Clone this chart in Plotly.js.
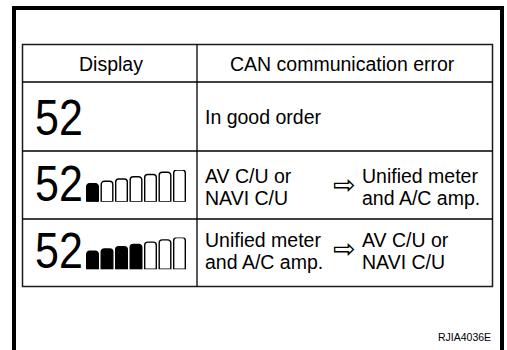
<!DOCTYPE html>
<html>
<head>
<meta charset="utf-8">
<script src="https://cdn.plot.ly/plotly-3.0.1.min.js"></script>
<style>
  html, body { margin: 0; padding: 0; background: #fff; }
  #chart { width: 507px; height: 350px; }
</style>
</head>
<body>
<div id="chart"></div>
<script>
// ---------- data ----------
const headers = ['Display', 'CAN communication error'];
const displayValue = '52';
const segmentIndex = [1, 2, 3, 4, 5, 6, 7];
const segmentLevels = [8, 9, 10, 11, 12, 13, 14];
const litSegments = [0, 1, 4];            // per table row
const statusText = ['In good order', null, null];
const fromUnit = [null, 'AV C/U or<br>NAVI C/U', 'Unified meter<br>and A/C amp.'];
const toUnit = [null, 'Unified meter<br>and A/C amp.', 'AV C/U or<br>NAVI C/U'];
const figureCode = 'RJIA4036E';

// ---------- geometry (pixels) ----------
const W = 507, H = 350;
const tbl = { left: 22.5, right: 492.5, top: 44.5, col: 197, rows: [82, 151, 219, 286.5] };
const FONT = '"Liberation Sans", Arial, Helvetica, sans-serif';
const textFont = { family: FONT, size: 19.5, color: '#000' };
const LINE = 22;

const shapes = [];
// outer frame (open at bottom)
shapes.push({ type: 'path', xref: 'x', yref: 'y',
  path: `M14,${H + 5} L14,8 L502,8 L502,${H + 5}`,
  line: { color: '#000', width: 4 } });
// table border
shapes.push({ type: 'rect', xref: 'x', yref: 'y', x0: tbl.left, x1: tbl.right,
  y0: tbl.top, y1: tbl.rows[3], line: { color: '#1a1a1a', width: 1.5 } });
// column divider
shapes.push({ type: 'line', xref: 'x', yref: 'y', x0: tbl.col, x1: tbl.col,
  y0: tbl.top, y1: tbl.rows[3], line: { color: '#000', width: 1.3 } });
// row lines
for (let i = 0; i < 3; i++) {
  shapes.push({ type: 'line', xref: 'x', yref: 'y', x0: tbl.left, x1: tbl.right,
    y0: tbl.rows[i], y1: tbl.rows[i], line: { color: '#000', width: 1.3 } });
}

const ann = [];
const digitAnn = [];
// headers
ann.push({ x: 111, y: 63.5, text: headers[0], showarrow: false, xanchor: 'center', yanchor: 'middle', font: textFont });
ann.push({ x: 342, y: 63.5, text: headers[1], showarrow: false, xanchor: 'center', yanchor: 'middle', font: textFont });

function addLines(x, yc, str) {
  const parts = str.split('<br>');
  const n = parts.length;
  parts.forEach((p, i) => {
    ann.push({ x: x, y: yc + (i - (n - 1) / 2) * LINE, text: p, showarrow: false,
      xanchor: 'left', yanchor: 'middle', font: textFont });
  });
}

const rowCenter = [116.5, 186.5, 251];
const digitCenter = [118, 183.5, 251];
for (let r = 0; r < 3; r++) {
  digitAnn.push(ann.length);
  ann.push({ x: 33, y: digitCenter[r], text: displayValue, showarrow: false,
    xanchor: 'left', yanchor: 'middle',
    font: { family: FONT, size: 50, color: '#000' } });
  if (statusText[r]) addLines(203, rowCenter[r], statusText[r]);
  if (fromUnit[r]) {
    addLines(203, rowCenter[r], fromUnit[r]);
    ann.push({ x: 344, y: rowCenter[r] - 2.5, text: '\u21E8', showarrow: false,
      xanchor: 'center', yanchor: 'middle',
      font: { family: '"DejaVu Sans", sans-serif', size: 27, color: '#000' } });
    addLines(360, rowCenter[r], toUnit[r]);
  }
}
ann.push({ x: 493, y: 336.5, text: figureCode, showarrow: false, xanchor: 'right', yanchor: 'middle',
  font: { family: FONT, size: 10.5, color: '#000' } });

// segment bar subplots (rows 2 and 3)
const segX0 = 85.25, segX1 = 186.75;
const barBottoms = [null, 201.7, 269.3];
const barTopPx = 31.7;
const traces = [];
const layout = {
  width: W, height: H,
  margin: { l: 0, r: 0, t: 0, b: 0 },
  paper_bgcolor: '#fff', plot_bgcolor: 'rgba(0,0,0,0)',
  showlegend: false,
  xaxis: { range: [0, W], visible: false, fixedrange: true, domain: [0, 1] },
  yaxis: { range: [H, 0], visible: false, fixedrange: true, domain: [0, 1] },
  shapes: shapes, annotations: ann,
  bargap: 0.2
};
let ax = 2;
for (let r = 1; r < 3; r++) {
  const colors = segmentIndex.map(i => i <= litSegments[r] ? '#000' : '#fff');
  traces.push({
    type: 'bar', x: segmentIndex, y: segmentLevels,
    xaxis: 'x' + ax, yaxis: 'y' + ax,
    width: 0.8, cliponaxis: false, hoverinfo: 'skip',
    marker: { color: colors, line: { color: '#000', width: 1.4 }, cornerradius: 3 }
  });
  const b = barBottoms[r];
  layout['xaxis' + ax] = { domain: [segX0 / W, segX1 / W], range: [0.5, 7.5], visible: false,
    fixedrange: true, anchor: 'y' + ax };
  layout['yaxis' + ax] = { domain: [(H - b) / H, (H - b + barTopPx) / H], range: [0, 14],
    visible: false, fixedrange: true, anchor: 'x' + ax };
  ax++;
}

Plotly.newPlot('chart', traces, layout, { staticPlot: true, displayModeBar: false }).then(gd => {
  // the display digits use a condensed face: narrow them horizontally
  digitAnn.forEach(k => {
    const t = gd.querySelector('.annotation[data-index="' + k + '"] text');
    if (t) {
      t.style.transformBox = 'fill-box';
      t.style.transformOrigin = '0 50%';
      t.style.transform = 'scaleX(0.86)';
    }
  });
});
</script>
</body>
</html>
